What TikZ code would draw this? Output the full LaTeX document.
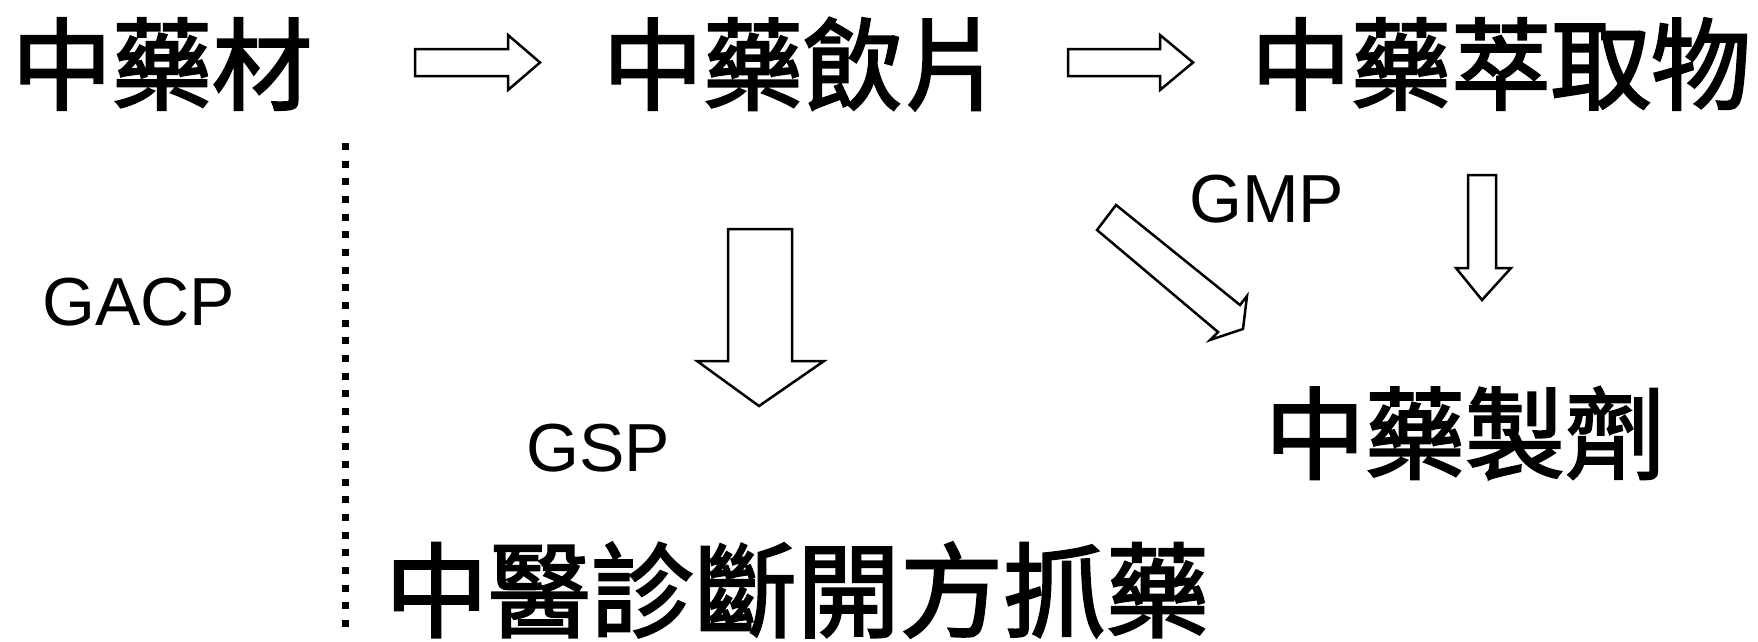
\documentclass[tikz,border=0pt]{standalone}
\usepackage{fontspec}
\setmainfont{Liberation Sans}
\newfontfamily\cjk[FakeBold=2.2]{Noto Sans CJK TC}
\begin{document}
\begin{tikzpicture}[x=1pt,y=-1pt,
  cjktext/.style={inner sep=0pt, font=\cjk\fontsize{100}{100}\selectfont},
  latin/.style={inner sep=0pt, anchor=base west, font=\fontsize{68}{68}\selectfont},
  blockarrow/.style={draw=black, line width=2.5pt, fill=white, line join=miter},
  dotline/.style={line width=7pt, dash pattern=on 7pt off 10.67pt}]
\useasboundingbox (0,0) rectangle (1758,641);
% texts
\node[cjktext] (herb) at (162,64) {中藥材};
\node[cjktext] (slice) at (803,64) {中藥飲片};
\node[cjktext] (extract) at (1501,64) {中藥萃取物};
\node[cjktext] (prep) at (1465,433) {中藥製劑};
\node[cjktext, font=\cjk\fontsize{103}{103}\selectfont] (clinic) at (797,590) {中醫診斷開方抓藥};
\node[latin] (gacp) at (42,325) {GACP};
\node[latin] (gsp) at (526,471) {GSP};
\node[latin] (gmp) at (1189,222) {GMP};
% dotted separator
\coordinate (dtop) at (345,143);
\coordinate (dbot) at (345,627);
\draw[dotline] (dtop) -- (dbot);
% horizontal block arrows
\draw[blockarrow] (415,49) -- (508,49) -- (508,35) -- (540,62.5) -- (508,90) -- (508,76) -- (415,76) -- cycle;
\draw[blockarrow] (1068,49) -- (1160,49) -- (1160,35) -- (1193,62.5) -- (1160,90) -- (1160,76) -- (1068,76) -- cycle;
% big down arrow
\draw[blockarrow] (728,229) -- (792,229) -- (792,361) -- (824,361) -- (759,406) -- (697,361) -- (728,361) -- cycle;
% small down arrow right
\draw[blockarrow] (1468,175) -- (1496,175) -- (1496,268) -- (1511,268) -- (1482,300) -- (1456,268) -- (1468,268) -- cycle;
% diagonal arrow
\draw[blockarrow] (1116,205) -- (1240,305) -- (1247,296) -- (1243,329) -- (1210,340) -- (1218,332) -- (1097,230) -- cycle;
\end{tikzpicture}
\end{document}
